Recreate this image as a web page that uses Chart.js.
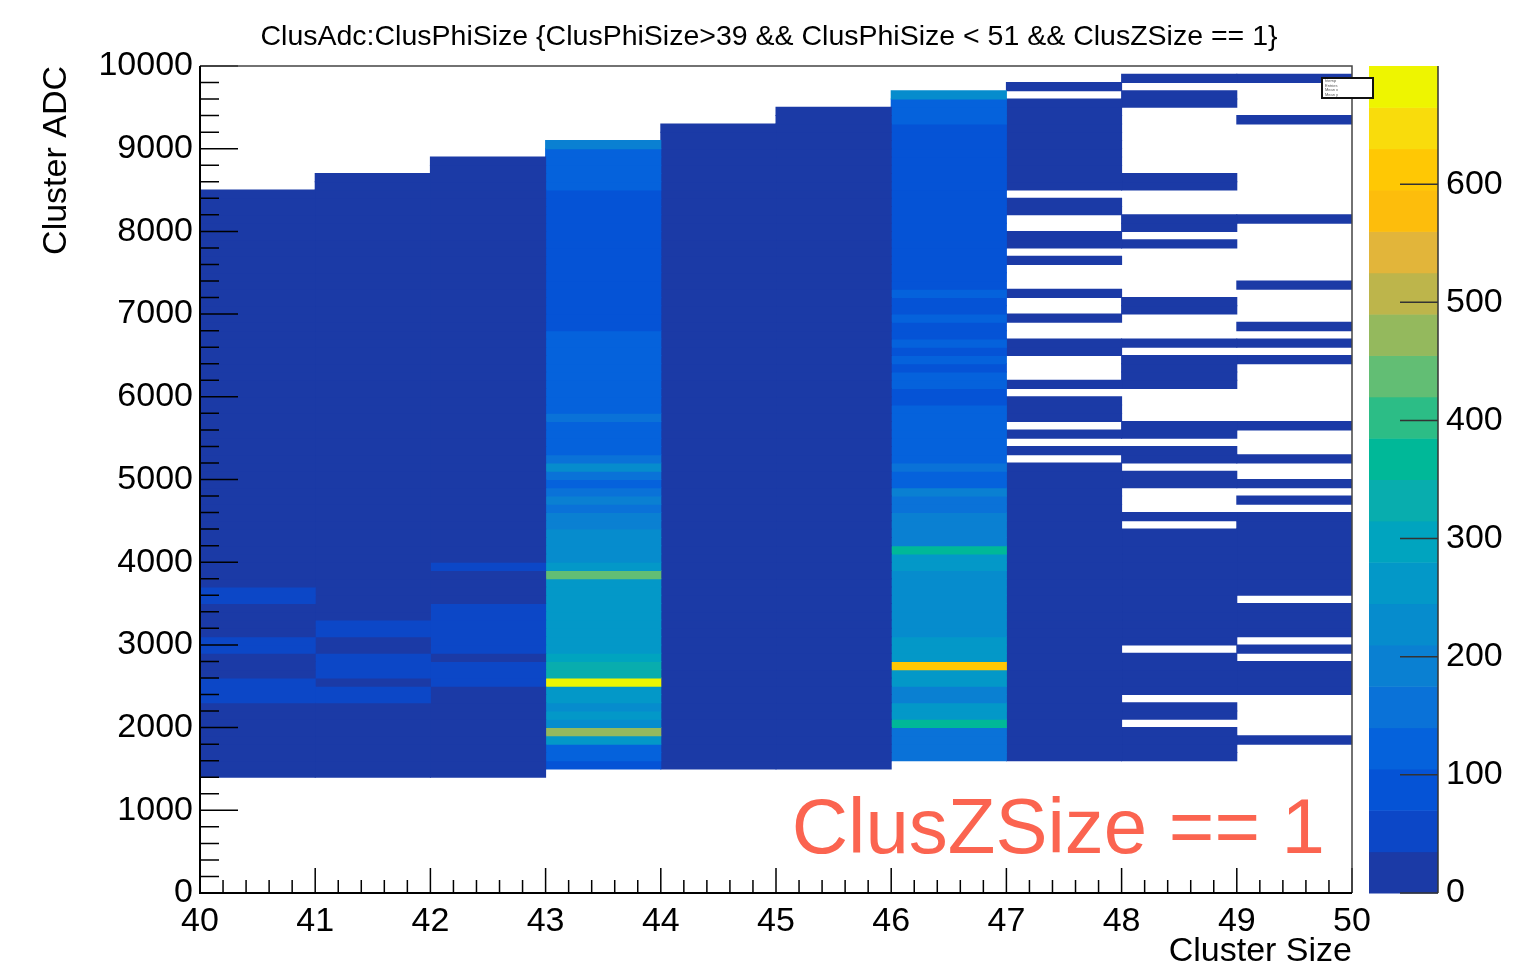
<!DOCTYPE html>
<html>
<head>
<meta charset="utf-8">
<title>ClusAdc:ClusPhiSize</title>
<script src="https://cdn.jsdelivr.net/npm/chart.js@4.4.1/dist/chart.umd.min.js"></script>
<style>
    html, body { margin: 0; padding: 0; background: #ffffff; }
    canvas { display: block; }
</style>
</head>
<body>
<canvas id="myChart" width="1538" height="980"></canvas>
<script>
// ClusPhiSize bins (low edge) and the ADC value where each column's counts start
const phiSizes = [40, 41, 42, 43, 44, 45, 46, 47, 48, 49];
const adcStart = [1400, 1400, 1400, 1500, 1500, 1500, 1600, 1600, 1600, 1800];
const adcBinWidth = 100;

// entries per 100 ADC bin, one array per ClusPhiSize column
const counts40 = [14, 19, 22, 24, 27, 25, 29, 31, 33, 46, 52, 44, 32, 30, 33, 41, 38, 29, 27, 26, 30, 39, 42,
    26, 24, 25, 23, 22, 24, 21, 22, 20, 21, 19, 20, 18, 19, 17, 18, 16, 17, 15, 16, 14, 15, 13, 14, 12, 13,
    12, 11, 12, 10, 11, 9, 10, 9, 8, 9, 7, 8, 7, 6, 7, 6, 5, 6, 4, 5, 4, 3];
const counts41 = [13, 18, 21, 23, 25, 27, 26, 29, 30, 44, 48, 31, 47, 52, 45, 32, 30, 43, 46,
    28, 26, 27, 25, 24, 26, 23, 24, 22, 21, 22, 20, 21, 19, 20, 18, 19, 17, 18, 16, 17, 15, 16, 14, 15, 13,
    14, 12, 13, 11, 12, 10, 11, 10, 9, 10, 8, 9, 8, 7, 8, 7, 6, 7, 6, 5, 6, 5, 4, 5, 4, 3, 4, 3];
const counts42 = [12, 17, 20, 22, 24, 26, 25, 28, 29, 31, 30, 45, 50, 47, 33, 42, 48, 51, 46, 43, 40, 32, 30, 31, 29, 40,
    28, 26, 27, 25, 24, 25, 23, 22, 23, 21, 20, 21, 19, 20, 18, 19, 17, 18, 16, 17, 15, 16, 14, 15, 13, 14,
    12, 13, 12, 11, 10, 11, 10, 9, 10, 8, 9, 8, 7, 8, 7, 6, 7, 5, 6, 5, 4, 5, 3];
const counts43 = [92, 118, 128, 262, 462, 236, 252, 244, 258, 250, 688, 342, 335, 290, 272, 265, 268, 260, 262, 255,
    258, 250, 262, 438, 248, 240, 232, 225, 218, 196, 188, 158, 182, 148, 135, 142, 212, 152, 138,
    122, 118, 126, 148, 124, 120, 116, 121, 118, 114, 119, 112, 116, 108,
    96, 92, 94, 90, 88, 92, 86, 90, 88, 84, 87, 82, 85, 80, 83, 78, 81,
    112, 118, 115, 120, 124, 192];
const counts44 = [11, 16, 19, 21, 23, 25, 24, 27, 28, 30, 29, 31, 30, 32, 31, 30, 29, 30, 28, 29,
    27, 28, 26, 27, 25, 26, 24, 25, 23, 24, 22, 23, 21, 22, 20, 21, 19, 20, 18, 19,
    17, 18, 16, 17, 15, 16, 14, 15, 13, 14, 12, 13, 11, 12, 10, 11, 10, 9, 10, 8,
    9, 8, 7, 8, 7, 6, 7, 6, 5, 6, 5, 4, 5, 4, 3, 4, 3, 2];
const counts45 = [10, 15, 18, 20, 22, 24, 23, 26, 27, 29, 28, 30, 29, 31, 30, 29, 28, 29, 27, 28,
    26, 27, 25, 26, 24, 25, 23, 24, 22, 23, 21, 22, 20, 21, 19, 20, 18, 19, 17, 18,
    16, 17, 15, 16, 14, 15, 13, 14, 12, 13, 11, 12, 10, 11, 10, 9, 10, 8, 9, 8,
    7, 8, 7, 6, 7, 6, 5, 6, 5, 4, 5, 4, 3, 4, 3, 2, 3, 2, 2, 1];
const counts46 = [145, 152, 148, 150, 368, 252, 256, 182, 188, 262, 266, 612, 252, 256, 248, 232, 236, 242, 228, 240,
    214, 236, 242, 250, 254, 362, 195, 190, 186, 178, 162, 158, 176, 126, 130, 160, 124, 120, 118, 122,
    116, 126, 121, 98, 96, 118, 114, 95, 116, 94, 115, 92, 94, 112, 90, 92, 114,
    92, 90, 94, 88, 91, 86, 89, 92, 87, 90, 85, 88, 91, 86, 89, 84, 87, 90, 88, 96,
    118, 122, 128, 218];
const counts47 = [9, 12, 14, 16, 15, 17, 18, 16, 17, 15, 16, 14, 15, 13, 14, 12, 13, 11, 12, 10,
    11, 9, 10, 8, 9, 7, 8, 6, 7, 5, 6, 5, 4, 5, 3, 4, 0, 2, 0, 3,
    0, 2, 3, 2, 0, 2, 0, 0, 0, 1, 2, 0, 0, 1, 0, 0, 1, 0, 0, 0,
    1, 0, 1, 1, 0, 0, 1, 1, 0, 1, 1, 1, 1, 1, 1, 1, 1, 1, 1, 1, 0, 1];
const counts48 = [3, 4, 3, 2, 0, 2, 3, 0, 3, 4, 2, 3, 2, 0, 2, 3, 2, 4, 3, 2,
    3, 2, 2, 3, 2, 1, 2, 1, 0, 1, 0, 0, 0, 1, 1, 0, 1, 1, 0, 1,
    1, 0, 0, 0, 0, 1, 1, 1, 1, 0, 1, 0, 0, 0, 1, 1, 0, 0, 0, 0,
    0, 0, 1, 0, 1, 1, 0, 0, 0, 1, 1, 0, 0, 0, 0, 0, 0, 0, 0, 1, 1, 0, 1];
const counts49 = [1, 0, 0, 0, 0, 0, 2, 1, 2, 1, 0, 1, 0, 1, 2, 1, 1, 0, 1, 2,
    1, 2, 1, 1, 2, 1, 1, 1, 0, 1, 0, 1, 0, 0, 1, 0, 0, 0, 1, 0,
    0, 0, 0, 0, 0, 0, 1, 0, 1, 0, 1, 0, 0, 0, 0, 1, 0, 0, 0, 0,
    0, 0, 0, 1, 0, 0, 0, 0, 0, 0, 0, 0, 0, 0, 0, 1, 0, 0, 0, 0, 1];

// axis and colour scale ranges
const xTicks = [40, 41, 42, 43, 44, 45, 46, 47, 48, 49, 50];
const yTicks = [0, 1000, 2000, 3000, 4000, 5000, 6000, 7000, 8000, 9000, 10000];
const zTicks = [0, 100, 200, 300, 400, 500, 600];
const zMax = 700;

// 20 contour levels, kBird-like palette
const birdColors = ['#1b3aa6', '#0c47c7', '#0553d6', '#0562dc', '#0a72d8', '#0a80d2', '#068ccd', '#0398c8',
    '#00a4bf', '#08adae', '#00b898', '#2cbd86', '#62be74', '#94b95d', '#bdb54b', '#e2b53a',
    '#fdbd0c', '#ffc804', '#f9dc0c', '#eef500'];
const zStep = zMax / birdColors.length;

const mainFont = "'Liberation Sans', Arial, Helvetica, sans-serif";

function colorFor(n) {
    const band = Math.min(birdColors.length - 1, Math.floor(n / zStep));
    return birdColors[band];
}

document.addEventListener('DOMContentLoaded', function () {
    const columns = [counts40, counts41, counts42, counts43, counts44, counts45, counts46, counts47, counts48, counts49];

    // every non-empty bin becomes a floating bar [lo, hi] centred in its column
    const datasets = columns.map((counts, i) => {
        const points = [];
        counts.forEach((n, k) => {
            if (n <= 0) return;
            const lo = adcStart[i] + k * adcBinWidth;
            points.push({ x: phiSizes[i] + 0.5, y: [lo, lo + adcBinWidth], count: n });
        });
        return {
            label: 'ClusPhiSize ' + phiSizes[i],
            data: points,
            backgroundColor: ctx => (ctx.raw ? colorFor(ctx.raw.count) : birdColors[0]),
            borderWidth: 0,
            inflateAmount: 0.5,
            barPercentage: 1,
            categoryPercentage: 1,
            grouped: false
        };
    });

    createChart(datasets);

    function createChart(datasets) {
        const ctx = document.getElementById('myChart').getContext('2d');
        const tickFont = { family: mainFont, size: 34 };

        // ROOT style ticks inside the frame, the frame itself, palette, stats box and note
        const rootDecor = {
            id: 'rootDecor',
            afterDatasetsDraw(chart) {
                const { ctx, chartArea: a, scales: { x, y } } = chart;
                ctx.save();
                ctx.strokeStyle = '#000';
                ctx.lineWidth = 1.5;
                ctx.beginPath();
                for (let i = 0; i <= 50; i++) {
                    const px = x.getPixelForValue(xTicks[0] + i * 0.2);
                    const len = i % 5 === 0 ? 25 : 13;
                    ctx.moveTo(px, a.bottom);
                    ctx.lineTo(px, a.bottom - len);
                }
                for (let i = 0; i <= 50; i++) {
                    const py = y.getPixelForValue(i * 200);
                    const len = i % 5 === 0 ? 38 : 19;
                    ctx.moveTo(a.left, py);
                    ctx.lineTo(a.left + len, py);
                }
                ctx.stroke();

                ctx.strokeStyle = '#444';
                ctx.lineWidth = 1.5;
                ctx.beginPath();
                ctx.moveTo(a.left, a.top);
                ctx.lineTo(a.right, a.top);
                ctx.lineTo(a.right, a.bottom);
                ctx.stroke();

                ctx.strokeStyle = '#000';
                ctx.lineWidth = 2;
                ctx.beginPath();
                ctx.moveTo(a.left, a.top);
                ctx.lineTo(a.left, a.bottom);
                ctx.lineTo(a.right, a.bottom);
                ctx.stroke();
                ctx.restore();
            },
            afterDraw(chart) {
                const { ctx, chartArea: a, scales: { z } } = chart;
                ctx.save();

                // colour palette with its axis
                const barLeft = z.left + 17;
                const barRight = z.left + 86;
                for (let i = 0; i < birdColors.length; i++) {
                    const y0 = z.getPixelForValue(i * zStep);
                    const y1 = z.getPixelForValue((i + 1) * zStep);
                    ctx.fillStyle = birdColors[i];
                    ctx.fillRect(barLeft, y1, barRight - barLeft, y0 - y1 + 0.5);
                }
                ctx.strokeStyle = '#333';
                ctx.lineWidth = 1.5;
                ctx.beginPath();
                ctx.moveTo(barRight, z.getPixelForValue(zMax));
                ctx.lineTo(barRight, z.getPixelForValue(0));
                zTicks.forEach(v => {
                    const py = z.getPixelForValue(v);
                    ctx.moveTo(barRight - 38, py);
                    ctx.lineTo(barRight, py);
                });
                ctx.stroke();

                ctx.fillStyle = '#000';
                ctx.font = tickFont.size + 'px ' + mainFont;
                ctx.textAlign = 'left';
                ctx.textBaseline = 'middle';
                zTicks.forEach(v => {
                    ctx.fillText(String(v), barRight + 8, z.getPixelForValue(v));
                });

                // stats box
                const bx = a.right - 30, by = a.top + 12, bw = 51, bh = 20;
                ctx.fillStyle = '#fff';
                ctx.fillRect(bx, by, bw, bh);
                ctx.strokeStyle = '#111';
                ctx.lineWidth = 2;
                ctx.strokeRect(bx, by, bw, bh);
                ctx.fillStyle = '#555';
                ctx.font = '4px ' + mainFont;
                ['htemp', 'Entries', 'Mean x', 'Mean y'].forEach((t, i) => {
                    ctx.fillText(t, bx + 3, by + 3 + i * 4.6);
                });

                // cut note
                ctx.fillStyle = '#fb6450';
                ctx.font = '78px ' + mainFont;
                ctx.textAlign = 'right';
                ctx.textBaseline = 'alphabetic';
                ctx.fillText('ClusZSize == 1', a.right - 27, a.bottom - 40);
                ctx.restore();
            }
        };

        new Chart(ctx, {
            type: 'bar',
            data: { datasets: datasets },
            options: {
                responsive: false,
                devicePixelRatio: 1,
                animation: false,
                layout: { padding: 0 },
                plugins: {
                    legend: { display: false },
                    tooltip: { enabled: false },
                    title: {
                        display: true,
                        text: 'ClusAdc:ClusPhiSize {ClusPhiSize>39 && ClusPhiSize < 51 && ClusZSize == 1}',
                        color: '#000',
                        font: { family: mainFont, size: 28.5, weight: 'normal' },
                        padding: { top: 20, bottom: 11.8 }
                    }
                },
                scales: {
                    x: {
                        type: 'linear',
                        min: xTicks[0],
                        max: xTicks[xTicks.length - 1],
                        offset: false,
                        grid: { display: false, offset: false, drawTicks: false },
                        border: { display: false },
                        ticks: {
                            stepSize: 1,
                            autoSkip: false,
                            maxRotation: 0,
                            padding: 8,
                            color: '#000',
                            font: tickFont,
                            callback: v => String(v)
                        },
                        title: {
                            display: true,
                            text: 'Cluster Size',
                            align: 'end',
                            color: '#000',
                            font: tickFont,
                            padding: { top: 0, bottom: 8 }
                        },
                        afterFit: s => { s.height = 87; }
                    },
                    y: {
                        type: 'linear',
                        min: yTicks[0],
                        max: yTicks[yTicks.length - 1],
                        grid: { display: false, drawTicks: false },
                        border: { display: false },
                        ticks: {
                            stepSize: 1000,
                            padding: 7,
                            color: '#000',
                            font: tickFont,
                            callback: v => String(v)
                        },
                        title: {
                            display: true,
                            text: 'Cluster ADC',
                            align: 'end',
                            color: '#000',
                            font: tickFont,
                            padding: { top: 36, bottom: 0 }
                        },
                        afterFit: s => { s.width = 200; }
                    },
                    z: {
                        type: 'linear',
                        position: 'right',
                        min: 0,
                        max: zMax,
                        grid: { display: false, drawTicks: false },
                        border: { display: false },
                        ticks: { display: false, padding: 0 },
                        afterFit: s => { s.width = 186; }
                    }
                }
            },
            plugins: [rootDecor]
        });
    }
});
</script>
</body>
</html>
